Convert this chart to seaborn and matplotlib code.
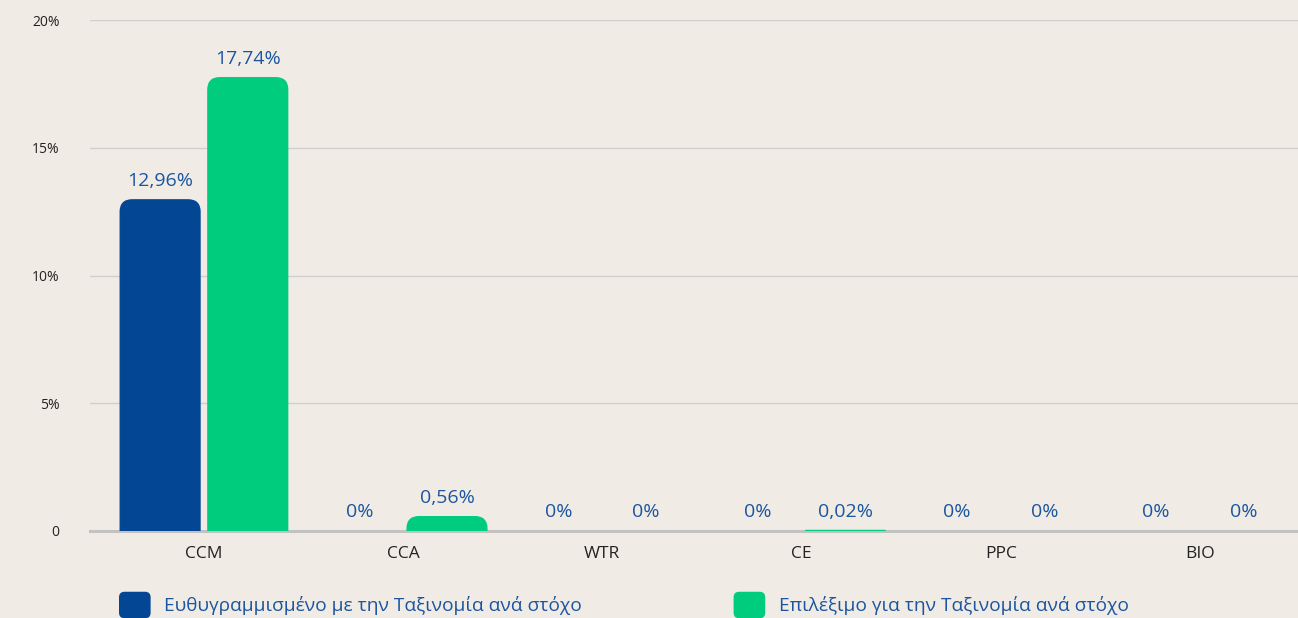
import matplotlib
matplotlib.use("Agg")
import matplotlib.pyplot as plt
from matplotlib.patches import FancyBboxPatch
from matplotlib.legend_handler import HandlerPatch
from matplotlib.patches import Patch
from matplotlib.ticker import FuncFormatter
import seaborn as sns
import pandas as pd

# Environmental objectives and the two shares per objective (in %)
goals = ["CCM", "CCA", "WTR", "CE", "PPC", "BIO"]
aligned = [12.96, 0.0, 0.0, 0.0, 0.0, 0.0]
eligible = [17.74, 0.56, 0.0, 0.02, 0.0, 0.0]
series_names = [
    "Ευθυγραμμισμένο με την Ταξινομία ανά στόχο",
    "Επιλέξιμο για την Ταξινομία ανά στόχο",
]
y_ticks = [0, 5, 10, 15, 20]

BG = "#f0ece5"
BLUE = "#034694"
GREEN = "#00cc7e"
LABEL_BLUE = "#1b55a0"
TEXT = "#222222"

sns.set_theme(style="white")
plt.rcParams["font.family"] = ["Open Sans", "DejaVu Sans"]

df = pd.DataFrame({
    "goal": goals * 2,
    "series": [series_names[0]] * len(goals) + [series_names[1]] * len(goals),
    "value": aligned + eligible,
})

W, H = 1298, 618
fig = plt.figure(figsize=(W / 100, H / 100), dpi=100, facecolor=BG)
ax = fig.add_axes([90 / W, 87 / H, 1208 / W, 511 / H], facecolor=BG)

sns.barplot(data=df, x="goal", y="value", hue="series", order=goals,
            hue_order=series_names, palette=[BLUE, GREEN], saturation=1,
            width=0.88, gap=0.09, legend=False, ax=ax)

ax.set_xlim(-0.572, 5.492)
ax.set_ylim(0, 20)
ax.set_yticks(y_ticks)
ax.yaxis.set_major_formatter(FuncFormatter(lambda v, _: "0" if v == 0 else f"{v:g}%"))
ax.grid(axis="y", color="#cfcfcf", linewidth=1)
ax.set_axisbelow(True)
for side in ("top", "right", "left"):
    ax.spines[side].set_visible(False)
ax.spines["bottom"].set_color("#c2c2c2")
ax.spines["bottom"].set_linewidth(2.2)
ax.tick_params(axis="y", length=0, pad=22, labelsize=10, labelcolor=TEXT)
ax.tick_params(axis="x", length=0, pad=11, labelsize=12.5, labelcolor=TEXT)
ax.set_xlabel("")
ax.set_ylabel("")


def fmt(v):
    return "0%" if v == 0 else f"{v:.2f}".replace(".", ",") + "%"


for cont, vals in zip(ax.containers, [aligned, eligible]):
    ax.bar_label(cont, labels=[fmt(v) for v in vals], padding=7,
                 fontsize=14, color=LABEL_BLUE)

# Replace the plain rectangles by bars with rounded top corners
fig.canvas.draw()
bbox = ax.get_window_extent()
x0l, x1l = ax.get_xlim()
y0l, y1l = ax.get_ylim()
px_x = bbox.width / (x1l - x0l)
px_y = bbox.height / (y1l - y0l)
for cont in ax.containers:
    for rect in list(cont.patches):
        x, w, h = rect.get_x(), rect.get_width(), rect.get_height()
        color = rect.get_facecolor()
        rect.set_visible(False)
        if h <= 0:
            continue
        r_px = min(12.0, h * px_y)
        rx = r_px / px_x
        ry = r_px / px_y
        bar = FancyBboxPatch((x, -ry), w, h + ry,
                             boxstyle=f"round,pad=0,rounding_size={rx}",
                             mutation_aspect=px_x / px_y,
                             facecolor=color, edgecolor=color, linewidth=1.0,
                             zorder=3)
        ax.add_patch(bar)


class RoundedSquare(HandlerPatch):
    def create_artists(self, legend, orig_handle, xdescent, ydescent,
                       width, height, fontsize, trans):
        p = FancyBboxPatch((-xdescent, -ydescent), width, height,
                           boxstyle="round,pad=0,rounding_size=4",
                           facecolor=orig_handle.get_facecolor(),
                           edgecolor="none", transform=trans)
        return [p]


handles = [Patch(facecolor=BLUE), Patch(facecolor=GREEN)]
leg = fig.legend(handles, series_names, ncol=2, frameon=False,
                 loc="center left", bbox_to_anchor=(119 / W, 1 - 605 / H),
                 borderpad=0, borderaxespad=0, fontsize=13.8,
                 handlelength=1.65, handleheight=1.75, handletextpad=0.72,
                 columnspacing=7.9,
                 handler_map={Patch: RoundedSquare()})
for t in leg.get_texts():
    t.set_color(LABEL_BLUE)

fig.savefig("out.png", dpi=100, facecolor=BG)
